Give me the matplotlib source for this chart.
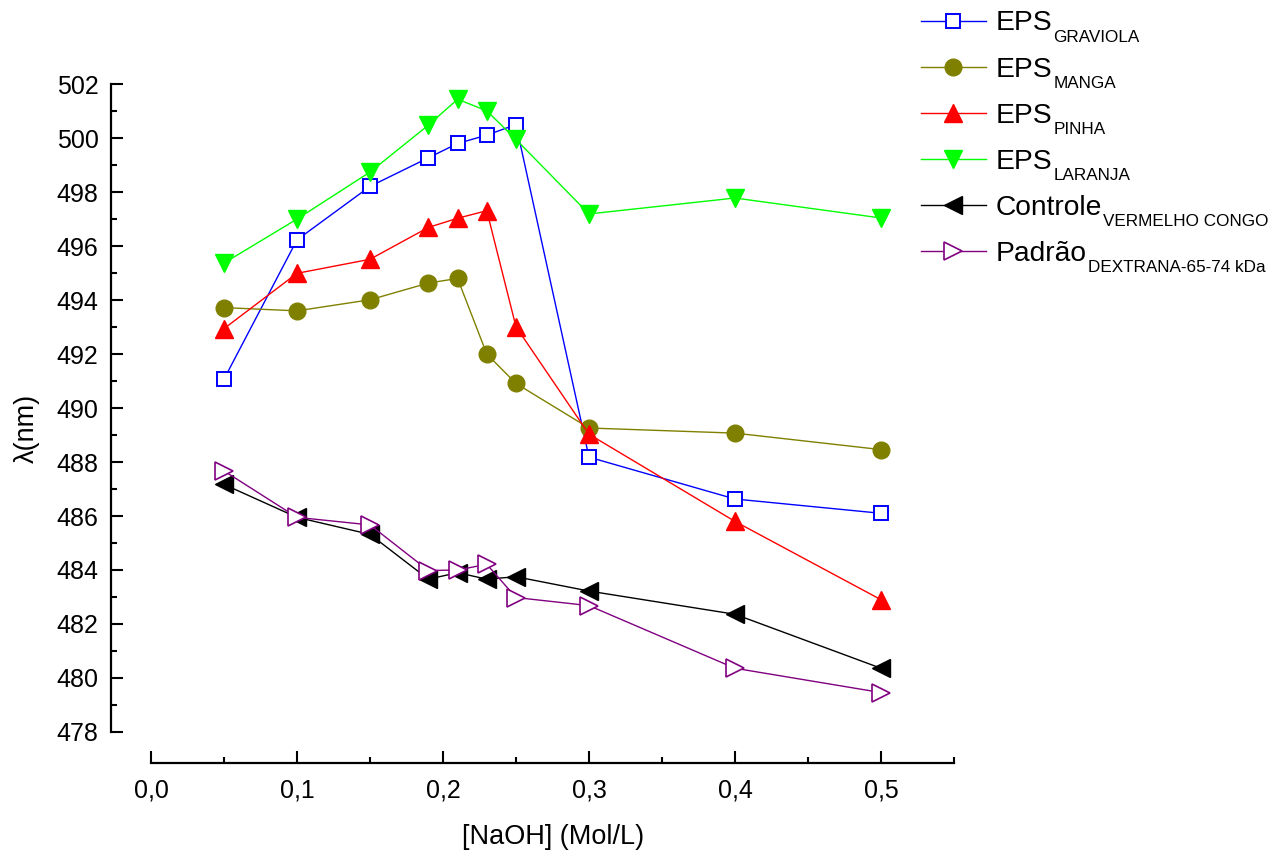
import matplotlib
matplotlib.use("Agg")
import matplotlib.pyplot as plt
from matplotlib.ticker import FixedLocator, FixedFormatter

plt.rcParams['font.family'] = ['Liberation Sans', 'DejaVu Sans']

# ---- data ----
naoh = [0.05, 0.10, 0.15, 0.19, 0.21, 0.23, 0.25, 0.30, 0.40, 0.50]
eps_graviola = [491.07, 496.23, 498.21, 499.27, 499.80, 500.11, 500.50, 488.18, 486.63, 486.10]
eps_manga = [493.72, 493.60, 494.01, 494.63, 494.80, 492.00, 490.91, 489.26, 489.07, 488.46]
eps_pinha = [492.94, 494.99, 495.51, 496.69, 497.03, 497.31, 493.01, 489.03, 485.80, 482.90]
eps_laranja = [495.37, 497.00, 498.74, 500.48, 501.44, 501.01, 499.95, 497.19, 497.78, 497.04]
controle = [487.17, 485.95, 485.32, 483.66, 483.90, 483.66, 483.75, 483.22, 482.36, 480.36]
padrao = [487.67, 485.95, 485.67, 483.98, 484.00, 484.21, 482.98, 482.68, 480.36, 479.46]

label_main = ['EPS', 'EPS', 'EPS', 'EPS', 'Controle', 'Padrão']
label_sub = ['GRAVIOLA', 'MANGA', 'PINHA', 'LARANJA', 'VERMELHO CONGO',
             'DEXTRANA-65-74 kDa']

x_ticks = [0.0, 0.1, 0.2, 0.3, 0.4, 0.5]
x_tick_labels = ['0,0', '0,1', '0,2', '0,3', '0,4', '0,5']
y_ticks = [478, 480, 482, 484, 486, 488, 490, 492, 494, 496, 498, 500, 502]

# ---- figure ----
W, H = 1287, 850
fig = plt.figure(figsize=(W / 100, H / 100), dpi=100)
ax = fig.add_axes([111/W, 1-763/H, (956-111)/W, (763-76)/H])

lw = 1.0
ax.plot(naoh, eps_graviola, color='#0000FF', lw=lw, marker='s', ms=10,
        mfc='white', mec='#0000FF', mew=1.4, label=label_main[0], zorder=3)
ax.plot(naoh, eps_manga, color='#808000', lw=lw, marker='o', ms=12,
        mfc='#808000', mec='#808000', label=label_main[1], zorder=3)
ax.plot(naoh, eps_pinha, color='#FF0000', lw=lw, marker='^', ms=13,
        mfc='#FF0000', mec='#FF0000', label=label_main[2], zorder=3)
ax.plot(naoh, eps_laranja, color='#00FF00', lw=lw, marker='v', ms=13,
        mfc='#00FF00', mec='#00FF00', label=label_main[3], zorder=3)
ax.plot(naoh, controle, color='black', lw=lw, marker='<', ms=13,
        mfc='black', mec='black', label=label_main[4], zorder=3)
ax.plot(naoh, padrao, color='#800080', lw=lw, marker='>', ms=13,
        mfc='white', mec='#800080', mew=1.2, label=label_main[5], zorder=3)

ax.set_xlim(-0.0274, 0.5514)
ax.set_ylim(476.85, 502.3)

for s in ['top', 'right']:
    ax.spines[s].set_visible(False)
ax.spines['left'].set_bounds(478, 502)
ax.spines['bottom'].set_bounds(0.0, 0.55)
for s in ['left', 'bottom']:
    ax.spines[s].set_linewidth(1.6)

ax.xaxis.set_major_locator(FixedLocator(x_ticks))
ax.xaxis.set_major_formatter(FixedFormatter(x_tick_labels))
ax.xaxis.set_minor_locator(FixedLocator([0.05, 0.15, 0.25, 0.35, 0.45, 0.55]))
ax.yaxis.set_major_locator(FixedLocator(y_ticks))
ax.yaxis.set_minor_locator(FixedLocator([479, 481, 483, 485, 487, 489, 491, 493,
                                         495, 497, 499, 501]))

ax.tick_params(axis='both', which='major', direction='in', length=8.5, width=1.5,
               labelsize=18)
ax.tick_params(axis='both', which='minor', direction='in', length=4.5, width=1.5)
ax.tick_params(axis='x', which='major', pad=11)
ax.tick_params(axis='y', which='major', pad=9)

ax.set_xlabel('[NaOH] (Mol/L)', fontsize=19.5)
ax.set_ylabel('λ(nm)', fontsize=19.5)
ax.xaxis.set_label_coords((553 - 111) / 845, (763 - 824) / 687)
ax.yaxis.set_label_coords((40 - 111) / 845, (763 - 428) / 687)

leg = ax.legend(loc='upper left', bbox_to_anchor=(921/W, 1 - 10.5/H),
                bbox_transform=fig.transFigure, frameon=False, fontsize=20.3,
                handlelength=2.3, handletextpad=0.35, labelspacing=0.71,
                borderaxespad=0, borderpad=0)

# subscripts placed after the legend layout is known
fig.canvas.draw()
renderer = fig.canvas.get_renderer()
for t, sub in zip(leg.get_texts(), label_sub):
    bb = t.get_window_extent(renderer)
    fig.text((bb.x1 + 1) / W, (bb.y0 + 6 - 11.6) / H, sub, fontsize=12.3,
             ha='left', va='baseline')

fig.savefig('out.png', dpi=100)
